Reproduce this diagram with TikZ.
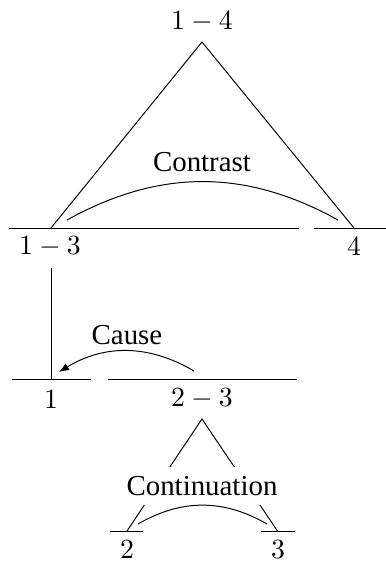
\documentclass[tikz,border=0pt]{standalone}
\usepackage[no-math]{fontspec}
\setmainfont{Liberation Serif}
\usepackage{tikz}
\usetikzlibrary{arrows.meta}

\begin{document}
\begin{tikzpicture}[x=0.36pt, y=0.36pt, line width=0.35pt,
        seg/.style={inner sep=0pt},
        rel/.style={inner sep=0pt, font=\fontsize{10.4}{12}\selectfont},
        arr/.style={-{Latex[length=3.6pt, width=2.8pt]}},
      ]
      \useasboundingbox (0,0) rectangle (386,561);
      \node[seg] (s14) at (202,539) {$1-4$};
      \node[seg] (s13) at (50,314)  {$1-3$};
      \node[seg] (s4)  at (354,314) {$4$};
      \node[seg] (s1)  at (51,161)  {$1$};
      \node[seg] (s23) at (202,162) {$2-3$};
      \node[seg] (s2)  at (127,11)  {$2$};
      \node[seg] (s3)  at (278,11)  {$3$};
      \coordinate (t14) at (202,519);
      \coordinate (t13) at (51,333);
      \coordinate (t4)  at (354,333);
      \coordinate (v13) at (51,293);
      \coordinate (t1)  at (51,182);
      \coordinate (t23) at (202,142);
      \coordinate (t2)  at (127,30);
      \coordinate (t3)  at (277.5,30);
      \coordinate (l13a) at (9,333);   \coordinate (l13b) at (299,333);
      \coordinate (l4a)  at (314,333); \coordinate (l4b)  at (386,333);
      \coordinate (l1a)  at (12,182);  \coordinate (l1b)  at (91,182);
      \coordinate (l23a) at (108,182); \coordinate (l23b) at (297,182);
      \coordinate (l2a)  at (110,30);  \coordinate (l2b)  at (143,30);
      \coordinate (l3a)  at (261,30);  \coordinate (l3b)  at (295,30);
      \draw (l13a) -- (l13b);
      \draw (l4a) -- (l4b);
      \draw (l1a) -- (l1b);
      \draw (l23a) -- (l23b);
      \draw (l2a) -- (l2b);
      \draw (l3a) -- (l3b);
      \draw (t13) -- (t14) -- (t4);
      \draw (v13) -- (t1);
      \draw (t2) -- (t23) -- (t3);
      \node[rel] (contrast) at (202,399) {Contrast};
      \node[rel] (cause) at (127,226) {Cause};
      \node[rel, fill=white, inner sep=3.4pt] (cont) at (202,75) {Continuation};
      \draw (67,341) to[bend left=29] (338,341);
      \draw[arr] (194,190) to[bend right=31] (59,189);
      \draw (138,37) to[bend left=30] (267,37);
    \end{tikzpicture}
\end{document}
